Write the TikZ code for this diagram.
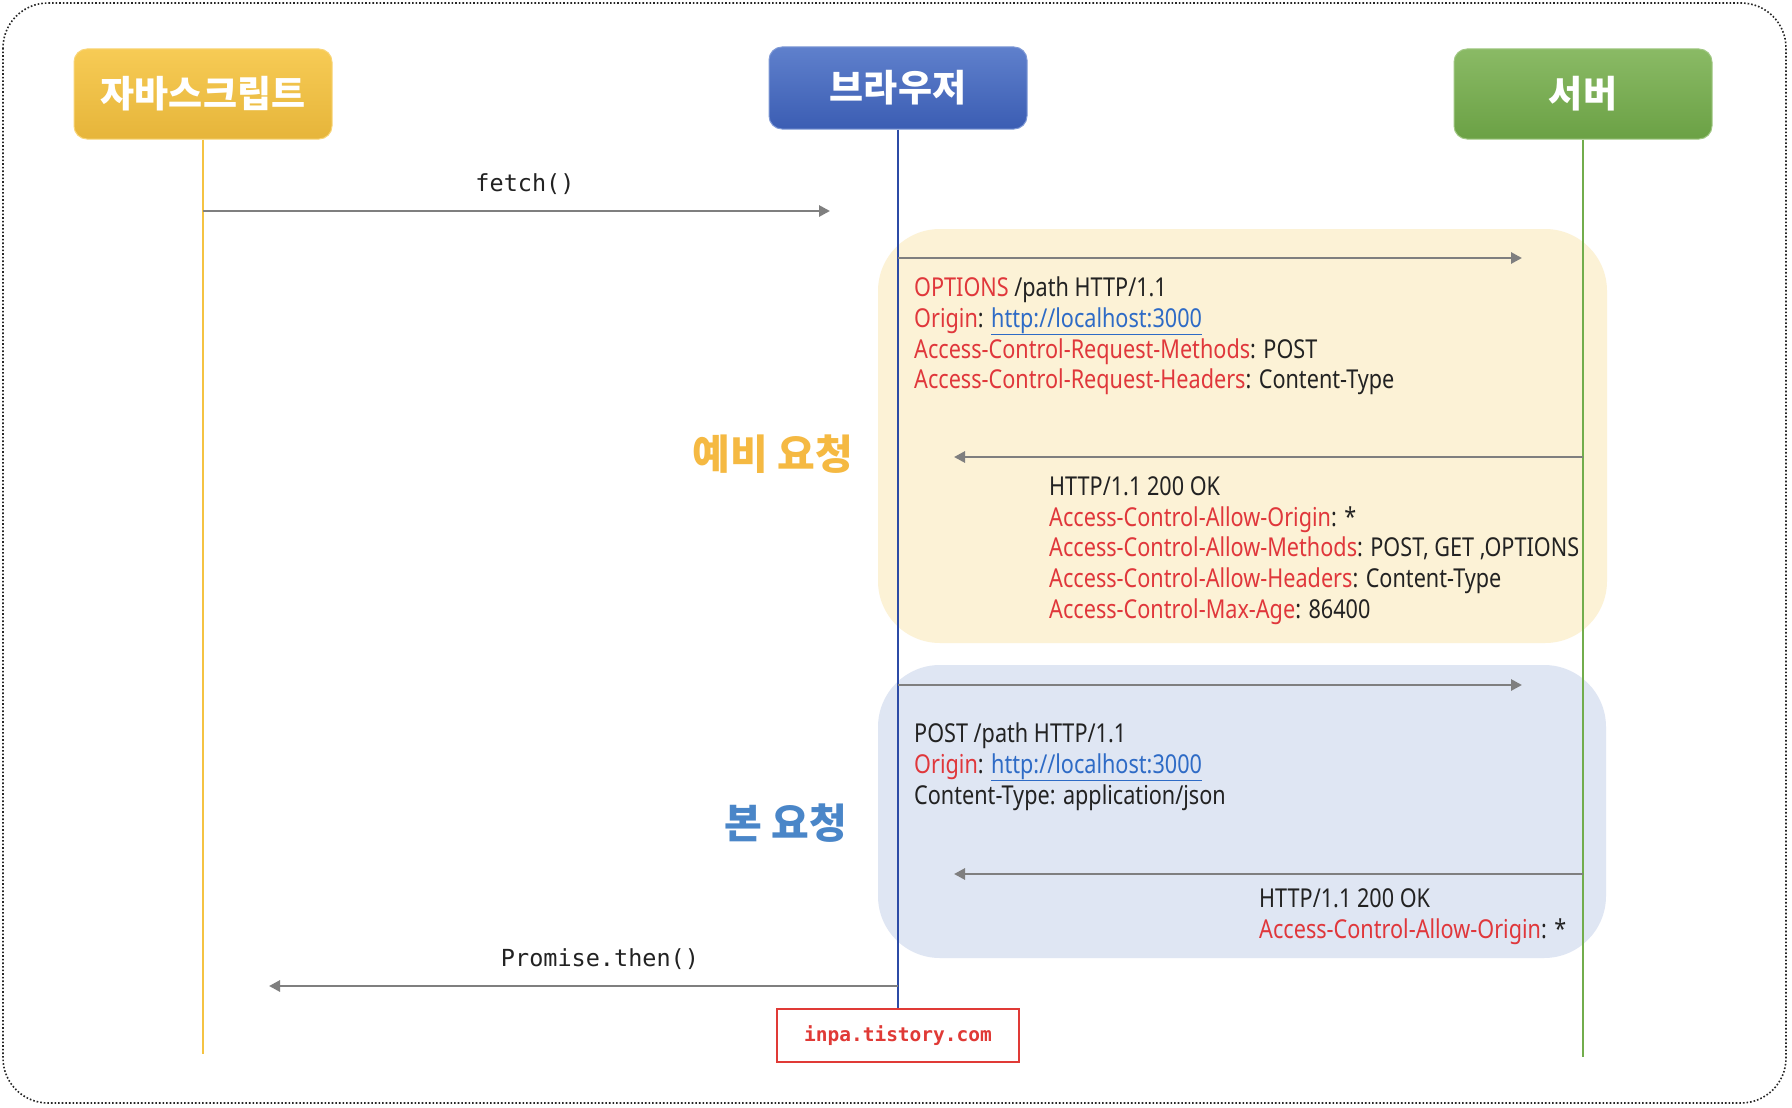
\documentclass[tikz,border=0pt]{standalone}
\usepackage{fontspec}
\usetikzlibrary{arrows.meta}
\newfontfamily\krfont{Noto Sans CJK KR}
\newfontfamily\httpfont{Noto Sans}[FakeStretch=0.832]
\newfontfamily\codefont{DejaVu Sans Mono}
\definecolor{jsTop}{HTML}{F7CB55}
\definecolor{jsBot}{HTML}{E6B53A}
\definecolor{jsLine}{HTML}{F5C342}
\definecolor{brTop}{HTML}{5F80CC}
\definecolor{brBot}{HTML}{3B5DB3}
\definecolor{brLine}{HTML}{2C4BA6}
\definecolor{svTop}{HTML}{8ABA65}
\definecolor{svBot}{HTML}{6BA145}
\definecolor{svLine}{HTML}{72AD4C}
\definecolor{preFill}{HTML}{FCF2D6}
\definecolor{mainFill}{HTML}{DFE6F3}
\definecolor{preText}{HTML}{F5B942}
\definecolor{mainText}{HTML}{4A86C8}
\definecolor{hred}{HTML}{E0373B}
\definecolor{hlink}{HTML}{2E6BC6}
\definecolor{hblack}{HTML}{222222}
\definecolor{msgGray}{HTML}{7F7F7F}
\definecolor{inpaRed}{HTML}{E03A36}
\begin{document}
\begin{tikzpicture}[x=1pt,y=-1pt,
  actor/.style={rounded corners=13pt, minimum width=258pt, minimum height=90pt,
    text=white, font=\krfont\bfseries\fontsize{37}{42}\selectfont, line width=1pt},
  region/.style={rounded corners=62pt, inner sep=0pt},
  msg/.style={draw=msgGray, line width=2.8pt, -{Triangle[length=11pt,width=11pt]}},
  http/.style={anchor=base west, inner sep=0pt, text=hblack,
    font=\httpfont\fontsize{26}{31}\selectfont},
  code/.style={inner sep=0pt, text=hblack, font=\codefont\fontsize{23.5}{27}\selectfont},
  phase/.style={inner sep=0pt, font=\krfont\bfseries\fontsize{41}{46}\selectfont}
]
\fill[white] (0,0) rectangle (1792,1108);
\useasboundingbox (0,0) rectangle (1792,1108);
\draw[black!85, dotted, line width=1.6pt, rounded corners=45pt] (3,3) rectangle (1786,1103);

% regions
\node[region, fill=preFill, minimum width=729pt, minimum height=414pt] (pre) at (1242.5,436) {};
\node[region, fill=mainFill, minimum width=728pt, minimum height=293pt] (main) at (1242,811.5) {};

% actors
\node[actor, top color=jsTop, bottom color=jsBot, draw=jsTop!80!white] (js) at (203,94) {자바스크립트};
\node[actor, minimum height=82pt, top color=brTop, bottom color=brBot, draw=brTop!80!white] (br) at (898,88) {브라우저};
\node[actor, top color=svTop, bottom color=svBot, draw=svTop!80!white] (sv) at (1583,94) {서버};

% watermark
\node[draw=inpaRed, line width=2.6pt, minimum width=242pt, minimum height=53pt, text=inpaRed,
  font=\codefont\bfseries\fontsize{19.5}{23}\selectfont] (inpa) at (898,1035.5) {inpa.tistory.com};

% lifelines
\coordinate (jsEnd) at (203,1054);
\coordinate (svEnd) at (1583,1057);
\draw[jsLine, line width=2.6pt] (js.south) -- (jsEnd);
\draw[brLine, line width=2pt] (br.south) -- (inpa.north);
\draw[svLine, line width=2.6pt] (sv.south) -- (svEnd);

% fetch
\coordinate (fetchS) at (203,211);
\coordinate (fetchE) at (830,211);
\draw[msg] (fetchS) -- (fetchE);
\node[code] (fetchL) at (525,184) {fetch()};

% preflight request
\coordinate (optS) at (898,258);
\coordinate (optE) at (1522,258);
\draw[msg] (optS) -- (optE);
\node[http] (o1) at (914,296) {\textcolor{hred}{OPTIONS} /path HTTP/1.1};
\node[http] (o2) at (914,327) {\textcolor{hred}{Origin}: \textcolor{hlink}{\underline{http://localhost:3000}}};
\node[http] (o3) at (914,358) {\textcolor{hred}{Access-Control-Request-Methods}: POST};
\node[http] (o4) at (914,388) {\textcolor{hred}{Access-Control-Request-Headers}: Content-Type};

% preflight response
\coordinate (preRS) at (1583,457);
\coordinate (preRE) at (954,457);
\draw[msg] (preRS) -- (preRE);
\node[http] (p1) at (1049,495) {HTTP/1.1 200 OK};
\node[http] (p2) at (1049,526) {\textcolor{hred}{Access-Control-Allow-Origin}: *};
\node[http] (p3) at (1049,556) {\textcolor{hred}{Access-Control-Allow-Methods}: POST, GET ,OPTIONS};
\node[http] (p4) at (1049,587) {\textcolor{hred}{Access-Control-Allow-Headers}: Content-Type};
\node[http] (p5) at (1049,618) {\textcolor{hred}{Access-Control-Max-Age}: 86400};

\node[phase, text=preText] (preL) at (773,454) {예비 요청};

% main request
\coordinate (postS) at (898,685);
\coordinate (postE) at (1522,685);
\draw[msg] (postS) -- (postE);
\node[http] (m1) at (914,742) {POST /path HTTP/1.1};
\node[http] (m2) at (914,773) {\textcolor{hred}{Origin}: \textcolor{hlink}{\underline{http://localhost:3000}}};
\node[http] (m3) at (914,804) {Content-Type: application/json};

% main response
\coordinate (mainRS) at (1583,874);
\coordinate (mainRE) at (954,874);
\draw[msg] (mainRS) -- (mainRE);
\node[http] (n1) at (1259,907) {HTTP/1.1 200 OK};
\node[http] (n2) at (1259,938) {\textcolor{hred}{Access-Control-Allow-Origin}: *};

\node[phase, text=mainText] (mainL) at (786,823) {본 요청};

% promise
\coordinate (promS) at (898,986);
\coordinate (promE) at (269,986);
\draw[msg] (promS) -- (promE);
\node[code] (promL) at (600,959) {Promise.then()};
\end{tikzpicture}
\end{document}
